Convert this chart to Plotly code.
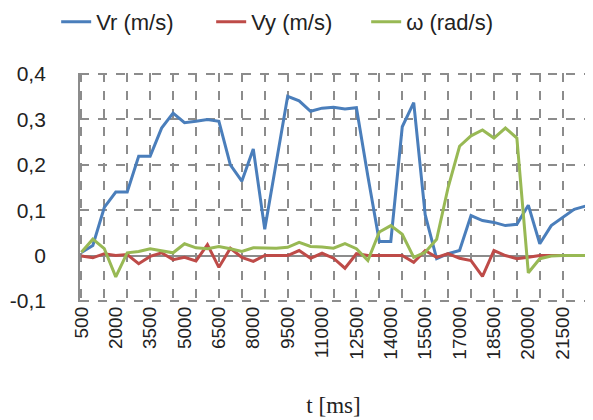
import plotly.graph_objects as go

t_ms = list(range(500, 23000, 500))  # 45 categories, 500..22500

vr = [0.007, 0.022, 0.106, 0.140, 0.140, 0.219, 0.219, 0.281, 0.314, 0.293,
      0.296, 0.300, 0.296, 0.200, 0.164, 0.235, 0.058, 0.200, 0.351, 0.341,
      0.318, 0.325, 0.327, 0.323, 0.326, 0.175, 0.031, 0.031, 0.284, 0.337,
      0.090, -0.007, 0.004, 0.011, 0.088, 0.077, 0.073, 0.066, 0.069, 0.111,
      0.026, 0.066, 0.084, 0.102, 0.109]

vy = [-0.001, -0.005, 0.004, 0.000, 0.002, -0.018, -0.002, 0.006, -0.009, -0.004,
      -0.012, 0.024, -0.026, 0.016, -0.004, -0.013, 0.000, 0.000, 0.000, 0.011,
      -0.006, 0.005, -0.006, -0.028, 0.004, 0.000, 0.000, 0.000, 0.000, -0.015,
      0.011, -0.004, 0.004, -0.006, -0.011, -0.046, 0.011, 0.000, -0.007, -0.004,
      0.000, 0.000, 0.000, 0.000, 0.000]

omega = [0.007, 0.036, 0.015, -0.047, 0.006, 0.009, 0.015, 0.011, 0.006, 0.026,
         0.017, 0.015, 0.020, 0.015, 0.009, 0.017, 0.016, 0.016, 0.018, 0.029,
         0.020, 0.019, 0.016, 0.026, 0.015, -0.011, 0.052, 0.066, 0.047, -0.004,
         0.007, 0.036, 0.150, 0.241, 0.264, 0.277, 0.259, 0.281, 0.259, -0.038,
         -0.007, -0.001, 0.000, 0.000, 0.000]

x_label_vals = list(range(500, 23000, 1500))
y_tick_vals = [-0.1, 0.0, 0.1, 0.2, 0.3, 0.4]
y_tick_text = ["-0,1", "0", "0,1", "0,2", "0,3", "0,4"]

series = [
    ("Vr (m/s)", vr, "#4A7EBB"),
    ("Vy (m/s)", vy, "#BE4B48"),
    ("ω (rad/s)", omega, "#98B954"),
]

grid_col = "#8C8C8C"
font_main = "Liberation Sans, Arial, sans-serif"
x_range = [440, 22560]
y_range = [-0.1025, 0.4025]

fig = go.Figure()
for name, vals, col in series:
    fig.add_trace(go.Scatter(x=t_ms, y=vals, mode="lines", name=name,
                             line=dict(color=col, width=3)))

# invisible trace to activate the labelled overlay axis
fig.add_trace(go.Scatter(x=[t_ms[0]], y=[0], xaxis="x2", mode="lines",
                         showlegend=False, hoverinfo="skip",
                         line=dict(color="rgba(0,0,0,0)")))

fig.update_layout(
    width=585, height=412,
    margin=dict(l=72, r=6, t=65, b=118, autoexpand=False),
    paper_bgcolor="white", plot_bgcolor="white",
    font=dict(family=font_main, color="#222222", size=19),
    showlegend=True,
    legend=dict(orientation="h", x=-0.047, xanchor="left", y=1.223, yanchor="middle",
                font=dict(size=22, color="#222222"), entrywidth=110,
                bgcolor="rgba(0,0,0,0)"),
    xaxis=dict(range=x_range, tickmode="linear", tick0=500, dtick=1000,
               showticklabels=False, ticks="", showgrid=True, gridcolor=grid_col,
               griddash="dash", gridwidth=1.6, zeroline=False, showline=False),
    xaxis2=dict(overlaying="x", side="bottom", range=x_range,
                tickmode="array", tickvals=x_label_vals,
                ticktext=[str(v) for v in x_label_vals],
                tickangle=-90, showgrid=False, zeroline=False, showline=False,
                ticks="", tickfont=dict(size=19, color="#222222"),
                title=dict(text="t [ms]", standoff=38,
                           font=dict(family="Liberation Serif, Times New Roman, serif",
                                     size=23, color="#222222"))),
    yaxis=dict(range=y_range, tickmode="array", tickvals=y_tick_vals,
               ticktext=y_tick_text, showgrid=True, gridcolor=grid_col,
               griddash="dash", gridwidth=1.6, zeroline=True, zerolinecolor=grid_col,
               zerolinewidth=1.8, showline=True, linecolor=grid_col, linewidth=1.8,
               ticks="", ticklabelstandoff=28, tickfont=dict(size=21, color="#222222")),
)

fig.write_html("out.html")
